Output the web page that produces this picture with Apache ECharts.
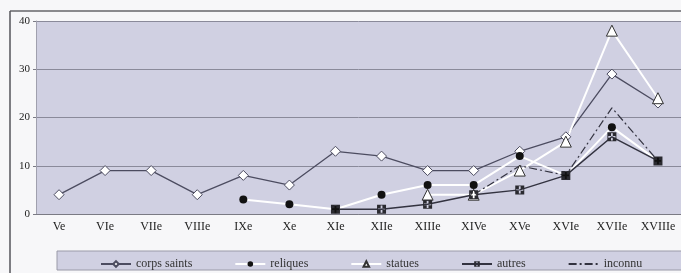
<!DOCTYPE html>
<html>
<head>
<meta charset="utf-8">
<script src="https://cdn.jsdelivr.net/npm/echarts@6/dist/echarts.min.js"></script>
<style>
  html, body { margin: 0; padding: 0; background: #f7f7f9; }
  #chart { width: 681px; height: 273px; }
</style>
</head>
<body>
<div id="chart"></div>
<script>
const siecles = ['Ve', 'VIe', 'VIIe', 'VIIIe', 'IXe', 'Xe', 'XIe', 'XIIe', 'XIIIe', 'XIVe', 'XVe', 'XVIe', 'XVIIe', 'XVIIIe'];
const corpsSaints = [4, 9, 9, 4, 8, 6, 13, 12, 9, 9, 13, 16, 29, 23];
const reliques = ['-', '-', '-', '-', 3, 2, 1, 4, 6, 6, 12, 8, 18, 11];
const statues = ['-', '-', '-', '-', '-', '-', '-', '-', 4, 4, 9, 15, 38, 24];
const autres = ['-', '-', '-', '-', '-', '-', 1, 1, 2, 4, 5, 8, 16, 11];
const inconnu = ['-', '-', '-', '-', '-', '-', '-', '-', '-', 4, 10, 8, 22, 11];
const yTicks = [0, 10, 20, 30, 40];

const serif = '"Liberation Serif", "DejaVu Serif", serif';
// carre sombre avec une croix blanche
const croix = 'path://M0,0H10V10H0Z M4,1V4H1V6H4V9H6V6H9V4H6V1Z';

let chart = echarts.init(document.getElementById('chart'));

let option = {
    backgroundColor: '#f7f7f9',
    animation: false,
    graphic: [
        { type: 'line', shape: { x1: 10, y1: 11, x2: 681, y2: 11 }, style: { stroke: '#8a8a8e', lineWidth: 2 } },
        { type: 'line', shape: { x1: 10, y1: 11, x2: 10, y2: 273 }, style: { stroke: '#55555a', lineWidth: 1.5 } },
        { type: 'rect', shape: { x: 57, y: 251, width: 630, height: 19 }, style: { fill: '#d0d0e2', stroke: '#9a9aa8', lineWidth: 1 }, z: -1 }
    ],
    grid: {
        left: 36, top: 21, width: 651, height: 193,
        show: true, backgroundColor: '#d0d0e2', borderWidth: 0
    },
    legend: {
        left: 95, top: 253,
        itemWidth: 30, itemHeight: 7, itemGap: 42,
        textStyle: { fontFamily: serif, fontSize: 12, color: '#333' },
        data: ['corps saints', 'reliques', 'statues', 'autres',
            { name: 'inconnu', itemStyle: { opacity: 0 } }]
    },
    xAxis: {
        type: 'category',
        data: siecles,
        boundaryGap: true,
        axisLine: { lineStyle: { color: '#7a7a84', width: 1 } },
        axisTick: { length: 4, lineStyle: { color: '#7a7a84' } },
        axisLabel: { fontFamily: serif, fontSize: 12, color: '#222', margin: 7 }
    },
    yAxis: {
        type: 'value',
        min: yTicks[0], max: yTicks[yTicks.length - 1], interval: 10,
        axisLine: { show: true, lineStyle: { color: '#a0a0ae' } },
        axisTick: { show: true, length: 3, lineStyle: { color: '#7a7a84' } },
        axisLabel: { fontFamily: serif, fontSize: 11, color: '#222', margin: 6 },
        splitLine: { lineStyle: { color: '#8a8a9a', width: 1 } }
    },
    series: [
        {
            name: 'corps saints', type: 'line', data: corpsSaints,
            symbol: 'diamond', symbolSize: 10,
            lineStyle: { color: '#4c4c60', width: 1.3 },
            itemStyle: { color: '#ffffff', borderColor: '#4c4c60', borderWidth: 1 }
        },
        {
            name: 'reliques', type: 'line', data: reliques,
            symbol: 'circle', symbolSize: 8,
            lineStyle: { color: '#ffffff', width: 2 },
            itemStyle: { color: '#111111', borderColor: '#111111', borderWidth: 0 }
        },
        {
            name: 'statues', type: 'line', data: statues,
            symbol: 'triangle', symbolSize: 11,
            lineStyle: { color: '#ffffff', width: 2 },
            itemStyle: { color: '#ffffff', borderColor: '#333333', borderWidth: 1 }
        },
        {
            name: 'autres', type: 'line', data: autres,
            symbol: croix, symbolSize: 9,
            lineStyle: { color: '#333340', width: 1.5 },
            itemStyle: { color: '#2a2a30', borderWidth: 0 }
        },
        {
            name: 'inconnu', type: 'line', data: inconnu,
            symbol: 'none',
            lineStyle: { color: '#333340', width: 1.2, type: [8, 3, 2, 3] },
            itemStyle: { color: '#333340' }
        }
    ]
};

chart.setOption(option);
</script>
</body>
</html>
